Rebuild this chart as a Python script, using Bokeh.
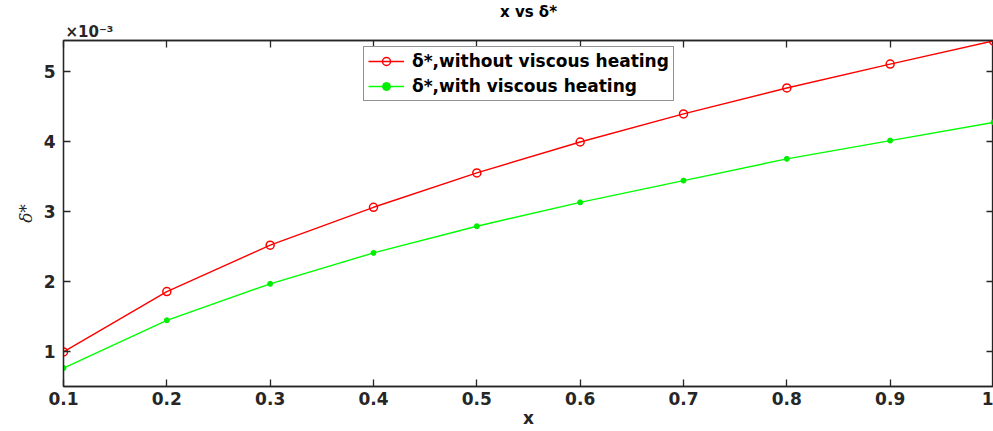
from bokeh.plotting import figure
from bokeh.models import (Range1d, FixedTicker, LinearAxis, Title, Legend, LegendItem)
from bokeh.embed import file_html
from bokeh.resources import INLINE

# data (delta* in units of 1e-3)
x_vals = [0.1, 0.2, 0.3, 0.4, 0.5, 0.6, 0.7, 0.8, 0.9, 1.0]
delta_without = [1.00, 1.86, 2.52, 3.06, 3.55, 3.99, 4.39, 4.76, 5.10, 5.43]
delta_with = [0.77, 1.45, 1.97, 2.41, 2.79, 3.13, 3.44, 3.75, 4.01, 4.27]
x_ticks = [0.1, 0.2, 0.3, 0.4, 0.5, 0.6, 0.7, 0.8, 0.9, 1.0]
y_ticks = [1, 2, 3, 4, 5]

FONT = "DejaVu Sans"
AX = "#262626"

p = figure(width=993, height=431, output_backend="svg", toolbar_location=None,
           x_range=Range1d(0.1, 1.0), y_range=Range1d(0.507, 5.436),
           min_border_left=63, min_border_right=0, min_border_top=36,
           min_border_bottom=45, x_axis_location=None, y_axis_location=None)
p.grid.visible = False
p.outline_line_color = AX
p.outline_line_width = 1.3
p.background_fill_color = "white"
p.border_fill_color = "white"

def style_axis(ax, ticks, labels=True):
    ax.ticker = FixedTicker(ticks=ticks)
    ax.axis_line_color = AX
    ax.axis_line_width = 1.3
    ax.major_tick_line_color = AX
    ax.major_tick_line_width = 1.3
    ax.major_tick_in = 7
    ax.major_tick_out = 0
    ax.minor_tick_line_color = None
    ax.major_label_text_font = FONT
    ax.major_label_text_font_style = "bold"
    ax.major_label_text_font_size = "17px"
    ax.major_label_text_color = AX
    if not labels:
        ax.major_label_text_alpha = 0
        ax.major_label_text_font_size = "0px"
        ax.major_label_standoff = 0

xb = LinearAxis(axis_label="x", axis_label_text_font=FONT, axis_label_text_font_style="bold",
                axis_label_text_font_size="17px", axis_label_text_color=AX,
                axis_label_standoff=0)
style_axis(xb, x_ticks)
xb.major_label_standoff = 5
p.add_layout(xb, "below")
yl = LinearAxis(axis_label="δ*", axis_label_text_font="DejaVu Serif",
                axis_label_text_font_style="italic", axis_label_text_font_size="17px",
                axis_label_text_color=AX, axis_label_standoff=5)
style_axis(yl, y_ticks)
yl.major_label_standoff = 8
p.add_layout(yl, "left")
xt = LinearAxis()
style_axis(xt, x_ticks, labels=False)
p.add_layout(xt, "above")
yr = LinearAxis()
style_axis(yr, y_ticks, labels=False)
p.add_layout(yr, "right")

p.add_layout(Title(text="×10⁻³", text_font=FONT, text_font_style="bold",
                   text_font_size="15px", text_color=AX, align="left", offset=2,
                   standoff=0), "above")
p.add_layout(Title(text="x vs δ*", text_font=FONT, text_font_style="bold",
                   text_font_size="15px", text_color="black", align="center",
                   standoff=0), "above")

r1 = p.line(x_vals, delta_without, line_color="#FF0000", line_width=1.4)
m1 = p.scatter(x_vals, delta_without, marker="circle", size=8, line_color="#FF0000",
               fill_color=None, line_width=1.5)
r2 = p.line(x_vals, delta_with, line_color="#00FF00", line_width=1.4)
m2 = p.scatter(x_vals, delta_with, marker="circle", size=5, line_color="#00EE00",
               fill_color="#00EE00")

legend = Legend(items=[LegendItem(label="δ*,without viscous heating", renderers=[r1, m1]),
                       LegendItem(label="δ*,with viscous heating", renderers=[r2, m2])],
                location=(300, 285), label_text_font=FONT, label_text_font_style="bold",
                label_text_font_size="17px", label_text_color="black",
                border_line_color=AX, border_line_width=1, glyph_width=36, glyph_height=20,
                label_standoff=8, spacing=5, padding=4, margin=0, label_height=20,
                background_fill_alpha=1)
p.add_layout(legend, "center")

open("out.html", "w").write(file_html(p, INLINE))
